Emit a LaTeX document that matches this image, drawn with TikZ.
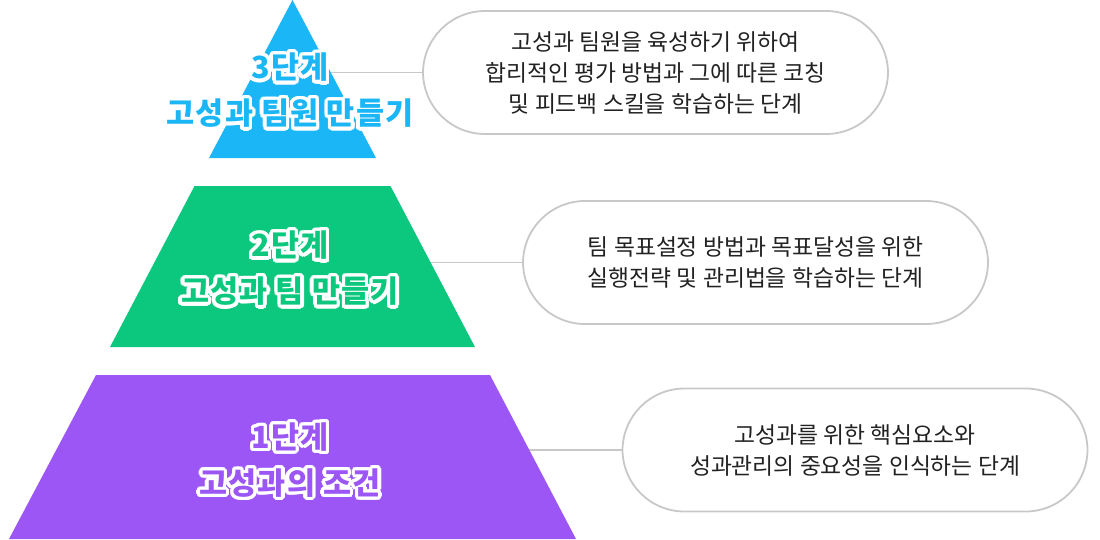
\documentclass[tikz,border=0pt]{standalone}
\usepackage{fontspec}
\newfontfamily\kr{Noto Sans CJK KR}
\newfontfamily\krs[LetterSpace=4]{Noto Sans CJK KR}
\usetikzlibrary{calc}
\definecolor{cblue}{HTML}{1BB6F6}
\definecolor{cgreen}{HTML}{0CC87E}
\definecolor{cpurple}{HTML}{9C56F5}
\definecolor{cline}{HTML}{C8C8C8}
\definecolor{ctext}{HTML}{222222}
\begin{document}
\begin{tikzpicture}[x=1pt,y=-1pt,
  bubble/.style={draw=cline,line width=1.8pt,fill=white,rounded corners=62pt,
    minimum width=465pt,minimum height=123pt,inner sep=0pt,
    font=\kr\fontsize{22.8}{31}\selectfont,text=ctext,align=center},
  conn/.style={draw=cline,line width=1.5pt},
  lbl/.style={font=\krs\bfseries\fontsize{30.5}{46}\selectfont,align=center,inner sep=0pt}]
\useasboundingbox (0,0) rectangle (1100,539);
% connector anchors
\coordinate (a3) at (292.5,72.5);
\coordinate (a2) at (292.5,262.5);
\coordinate (a1) at (292.5,450);
% bubbles
\node[bubble] (b3) at (655.5,72.5) {고성과 팀원을 육성하기 위하여\\합리적인 평가 방법과 그에 따른 코칭\\및 피드백 스킬을 학습하는 단계};
\node[bubble] (b2) at (755.5,262.5) {팀 목표설정 방법과 목표달성을 위한\\실행전략 및 관리법을 학습하는 단계};
\node[bubble] (b1) at (855,450) {고성과를 위한 핵심요소와\\성과관리의 중요성을 인식하는 단계};
% connectors
\draw[conn] (a3) -- (b3.west);
\draw[conn] (a2) -- (b2.west);
\draw[conn] (a1) -- (b1.west);
% pyramid
\fill[cblue] (292.5,0) -- (376,158) -- (209,158) -- cycle;
\fill[cgreen] (194.5,186) -- (390.5,186) -- (475,347) -- (110,347) -- cycle;
\fill[cpurple] (96,375) -- (490,375) -- (576,539) -- (9,539) -- cycle;
% outlined labels
\foreach \a in {0,20,...,340}{
  \node[lbl,text=white] (o3-\a) at ($(290,90.5)+(\a:3.4)$) {3단계\\고성과 팀원 만들기};
  \node[lbl,text=white] (o2-\a) at ($(290,268.5)+(\a:3.4)$) {2단계\\고성과 팀 만들기};
  \node[lbl,text=white] (o1-\a) at ($(290,460)+(\a:3.4)$) {1단계\\고성과의 조건};
}
\node[lbl,text=cblue] (l3) at (290,90.5) {3단계\\고성과 팀원 만들기};
\node[lbl,text=cgreen] (l2) at (290,268.5) {2단계\\고성과 팀 만들기};
\node[lbl,text=cpurple] (l1) at (290,460) {1단계\\고성과의 조건};
\end{tikzpicture}
\end{document}
